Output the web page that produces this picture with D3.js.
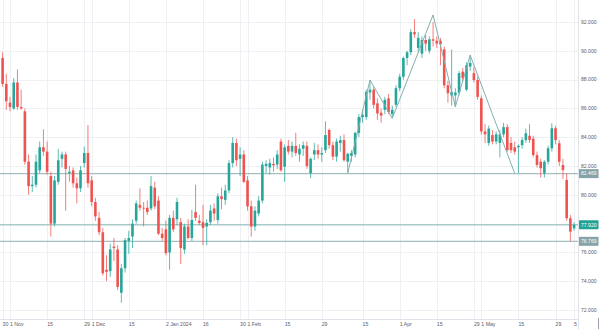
<!DOCTYPE html>
<html><head><meta charset="utf-8">
<script src="https://cdn.jsdelivr.net/npm/d3@7"></script>
<style>html,body{margin:0;padding:0;background:#fff;}svg{display:block;}</style>
</head><body>
<svg id="chart" width="600" height="329"></svg>
<script>
// Trading days (ICE Brent daily), Oct 30 2023 – Jun 5 2024
const dates = [
"2023-10-30","2023-10-31",
"2023-11-01","2023-11-02","2023-11-03","2023-11-06","2023-11-07","2023-11-08","2023-11-09","2023-11-10",
"2023-11-13","2023-11-14","2023-11-15","2023-11-16","2023-11-17","2023-11-20","2023-11-21","2023-11-22",
"2023-11-23","2023-11-24","2023-11-27","2023-11-28","2023-11-29","2023-11-30",
"2023-12-01","2023-12-04","2023-12-05","2023-12-06","2023-12-07","2023-12-08","2023-12-11","2023-12-12",
"2023-12-13","2023-12-14","2023-12-15","2023-12-18","2023-12-19","2023-12-20","2023-12-21","2023-12-22",
"2023-12-26","2023-12-27","2023-12-28","2023-12-29",
"2024-01-02","2024-01-03","2024-01-04","2024-01-05","2024-01-08","2024-01-09","2024-01-10","2024-01-11",
"2024-01-12","2024-01-15","2024-01-16","2024-01-17","2024-01-18","2024-01-19","2024-01-22","2024-01-23",
"2024-01-24","2024-01-25","2024-01-26","2024-01-29","2024-01-30","2024-01-31",
"2024-02-01","2024-02-02","2024-02-05","2024-02-06","2024-02-07","2024-02-08","2024-02-09","2024-02-12",
"2024-02-13","2024-02-14","2024-02-15","2024-02-16","2024-02-19","2024-02-20","2024-02-21","2024-02-22",
"2024-02-23","2024-02-26","2024-02-27","2024-02-28","2024-02-29",
"2024-03-01","2024-03-04","2024-03-05","2024-03-06","2024-03-07","2024-03-08","2024-03-11","2024-03-12",
"2024-03-13","2024-03-14","2024-03-15","2024-03-18","2024-03-19","2024-03-20","2024-03-21","2024-03-22",
"2024-03-25","2024-03-26","2024-03-27","2024-03-28",
"2024-04-01","2024-04-02","2024-04-03","2024-04-04","2024-04-05","2024-04-08","2024-04-09","2024-04-10",
"2024-04-11","2024-04-12","2024-04-15","2024-04-16","2024-04-17","2024-04-18","2024-04-19","2024-04-22",
"2024-04-23","2024-04-24","2024-04-25","2024-04-26","2024-04-29","2024-04-30",
"2024-05-01","2024-05-02","2024-05-03","2024-05-06","2024-05-07","2024-05-08","2024-05-09","2024-05-10",
"2024-05-13","2024-05-14","2024-05-15","2024-05-16","2024-05-17","2024-05-20","2024-05-21","2024-05-22",
"2024-05-23","2024-05-24","2024-05-27","2024-05-28","2024-05-29","2024-05-30","2024-05-31",
"2024-06-03","2024-06-04","2024-06-05"];

const opens = [89.5,87.7,86.4,86.0,87.8,86.1,85.8,82.3,80.6,80.7,81.7,83.3,83.0,81.3,78.0,80.9,82.5,82.8,81.5,81.7,
80.8,80.45,82.2,82.9,81.0,79.5,78.4,77.4,74.8,74.7,76.4,76.2,73.2,74.9,76.8,77.1,78.2,79.3,79.1,79.1,
79.05,80.5,79.6,77.3,77.6,76.0,78.4,78.3,78.1,76.2,77.8,77.0,78.8,78.2,78.1,77.8,78.1,79.05,78.25,79.9,
79.65,80.3,82.2,83.6,82.5,82.8,81.0,79.2,77.8,78.7,79.6,82.0,81.9,82.15,82.1,83.7,81.95,83.4,83.0,83.4,
82.8,83.2,83.4,81.5,82.8,83.1,82.8,83.1,84.5,83.45,82.65,83.6,83.8,82.3,82.7,82.8,84.3,85.4,85.4,87.1,
87.3,86.35,85.7,85.9,86.7,85.6,86.25,87.4,88.2,89.5,89.9,91.3,90.2,89.8,90.75,90.0,90.8,90.7,90.7,90.1,
87.6,86.9,86.9,87.1,88.55,87.3,88.9,88.45,87.97,86.7,84.4,83.6,84.15,83.7,83.6,84.2,84.7,83.6,83.3,83.3,
83.45,83.8,84.1,83.9,82.76,82.3,81.5,82.3,83.23,84.62,83.58,82.07,81.03,78.37,77.67];
const highs = [89.9,88.4,86.8,88.1,88.7,87.3,86.0,82.8,81.3,82.8,83.7,84.55,83.7,81.6,81.3,83.2,83.0,83.0,82.0,81.9,
81.2,82.0,83.35,84.85,81.3,79.8,78.8,77.7,75.8,76.6,77.0,76.5,75.2,77.0,77.5,78.3,79.6,80.45,79.5,79.6,
81.3,80.9,79.9,77.7,78.2,78.6,78.9,79.8,78.4,78.0,78.3,78.95,80.7,78.6,79.3,78.3,79.3,79.4,80.1,80.5,
80.7,82.4,84.0,83.9,83.3,83.1,81.3,79.6,79.2,79.9,82.3,82.4,82.5,82.6,83.1,83.9,83.5,83.8,83.7,84.3,
83.5,83.7,83.7,82.6,83.6,83.5,83.3,85.1,84.6,83.7,83.9,84.1,84.2,82.9,83.1,84.4,85.6,85.9,87.3,87.97,
87.5,86.7,86.0,86.8,87.0,86.2,87.6,88.4,89.6,90.0,91.5,92.2,91.3,91.0,91.1,91.0,92.0,91.0,90.9,90.3,
87.9,90.1,87.4,88.6,88.8,89.2,89.7,88.9,88.2,86.9,84.9,84.8,84.5,84.4,84.5,85.0,84.9,84.0,83.7,83.5,
84.0,84.6,84.9,84.1,83.0,82.5,82.4,83.4,84.97,84.8,83.8,82.5,81.5,78.6,78.1];
const lows = [87.5,85.9,85.8,85.9,85.9,85.9,82.1,80.0,80.2,80.5,81.5,82.7,81.4,77.1,77.8,80.7,81.9,78.9,80.9,80.5,
79.4,80.2,81.9,80.5,79.2,78.2,77.2,74.4,74.0,74.3,75.4,73.4,72.5,74.6,75.9,76.3,78.0,78.9,77.8,78.6,
78.9,79.0,77.2,76.8,75.8,74.8,77.4,77.9,75.2,75.9,76.9,76.8,78.2,77.9,76.5,76.5,77.9,78.2,78.0,79.0,
79.3,80.1,81.9,82.0,81.3,80.8,78.9,77.1,77.5,78.5,79.4,81.5,81.4,81.6,81.8,81.6,80.9,82.8,82.6,82.7,
82.3,82.7,81.8,81.15,82.4,82.5,82.3,82.9,83.2,82.4,82.3,83.0,82.3,81.5,82.3,82.6,84.0,85.0,85.2,86.6,
86.0,85.2,85.0,85.6,85.6,85.31,86.1,87.2,88.0,89.0,89.7,90.9,89.9,89.5,90.0,89.8,90.3,90.2,89.0,87.4,
86.4,86.2,86.12,86.9,87.9,87.2,88.6,87.8,86.6,84.2,83.6,83.4,83.5,83.5,82.6,84.0,83.0,82.9,82.8,81.5,
83.2,83.6,83.6,82.6,81.9,81.2,81.2,82.1,83.0,83.5,82.0,81.1,78.2,76.77,77.5];
const closes = [87.7,86.5,86.1,87.8,86.1,86.0,82.3,80.6,80.7,82.3,83.3,83.0,81.6,78.0,81.0,82.4,82.8,81.8,81.6,80.8,
80.45,81.7,82.9,80.8,79.5,78.5,77.4,74.55,74.65,76.2,76.3,73.6,74.9,76.85,77.0,78.0,79.4,79.1,79.05,78.8,
80.6,79.2,77.3,77.0,75.95,78.4,77.6,79.5,76.3,77.8,77.0,78.25,78.4,78.05,77.7,78.05,78.9,78.7,79.9,79.7,
80.3,82.2,83.6,82.4,82.8,80.9,79.2,77.8,78.9,79.6,82.1,82.15,82.2,82.05,82.8,81.7,83.3,83.0,83.4,82.9,
83.2,83.45,82.0,82.5,83.1,82.8,82.9,84.15,83.45,82.65,83.7,83.8,82.4,82.85,82.9,84.3,85.4,85.55,87.15,87.3,
86.25,85.65,85.5,86.6,85.75,85.9,87.4,88.2,89.5,89.9,91.3,91.15,90.9,90.75,90.5,90.8,90.7,90.5,90.45,87.6,
87.05,87.15,87.1,88.45,88.1,89.0,89.15,87.97,86.8,84.4,84.2,84.6,83.7,84.2,84.2,84.7,83.1,83.1,83.0,83.4,
83.8,84.27,83.8,82.76,82.07,81.84,82.3,83.23,84.62,83.8,82.3,81.72,78.37,77.44,77.92];

const priceTicks = [72,74,76,78,80,82,84,86,88,90,92];
const tickDates  = ["2023-10-30","2023-11-01","2023-11-15","2023-11-29","2023-12-01","2023-12-15","2024-01-02","2024-01-16",
  "2024-01-30","2024-02-01","2024-02-15","2024-02-29","2024-03-15","2024-04-01","2024-04-15","2024-04-29","2024-05-01",
  "2024-05-15","2024-05-29","2024-06-05"];
const tickLabels = ["30","1 Nov","15","29","1 Dec","15","2 Jan 2024","16","30","1 Feb","15","29","15","1 Apr","15","29","1 May","15","29","5"];

const levelPrices = [81.469, 77.920, 76.769];
const levelLabels = ["81.469", "77.920", "76.769"];
const levelBoxColors = ["#86a3a8", "#22a396", "#86a3a8"];

const zigDates  = ["2024-03-11","2024-03-19","2024-03-27","2024-04-12","2024-04-22","2024-04-26","2024-05-14"];
const zigPrices = [81.49, 87.97, 85.31, 92.49, 86.12, 89.70, 81.49];

// ---- drawing ----
const W = 600, H = 329, plotR = 578, plotB = 319;
const svg = d3.select("#chart");
const x = d3.scalePoint().domain(dates).range([2.6, 2.6 + 3.711 * (dates.length - 1)]);
const y = d3.scaleLinear().domain([72, 92]).range([310, 22]);
const font = "'Liberation Sans', Arial, sans-serif";
const fs = 5.1;

const grid = svg.append("g");
grid.selectAll("line.h").data(priceTicks).join("line")
  .attr("x1", 0).attr("x2", plotR).attr("y1", d => Math.round(y(d)) + 0.5).attr("y2", d => Math.round(y(d)) + 0.5)
  .attr("stroke", "#eef0f4").attr("stroke-width", 1);
grid.selectAll("line.v").data(tickDates).join("line")
  .attr("x1", d => Math.round(x(d)) + 0.5).attr("x2", d => Math.round(x(d)) + 0.5)
  .attr("y1", 0).attr("y2", plotB)
  .attr("stroke", "#eef0f4").attr("stroke-width", 1);

// horizontal level lines
svg.append("g").selectAll("line").data(levelPrices).join("line")
  .attr("x1", 0).attr("x2", plotR).attr("y1", d => y(d)).attr("y2", d => y(d))
  .attr("stroke", (d, i) => i === 1 ? "#a9cbc8" : "#a7bec1").attr("stroke-width", 1.3);

// candles
const idx = d3.range(dates.length);
const cg = svg.append("g");
cg.selectAll("line").data(idx).join("line")
  .attr("x1", i => x(dates[i])).attr("x2", i => x(dates[i]))
  .attr("y1", i => y(highs[i])).attr("y2", i => y(lows[i]))
  .attr("stroke", i => closes[i] >= opens[i] ? "#26a69a" : "#ef5350")
  .attr("stroke-opacity", 0.75).attr("stroke-width", 1);
cg.selectAll("rect").data(idx).join("rect")
  .attr("x", i => x(dates[i]) - 1.3).attr("width", 2.6)
  .attr("y", i => y(Math.max(opens[i], closes[i])))
  .attr("height", i => Math.max(0.8, Math.abs(y(opens[i]) - y(closes[i]))))
  .attr("fill", i => closes[i] >= opens[i] ? "#26a69a" : "#ef5350");

// zigzag pattern line
const zig = zigDates.map((d, i) => [x(d), y(zigPrices[i])]);
svg.append("path").attr("d", d3.line()(zig))
  .attr("fill", "none").attr("stroke", "#86aeb0").attr("stroke-width", 1);

// axes frame
svg.append("rect").attr("x", plotR).attr("y", 0).attr("width", W - plotR).attr("height", H).attr("fill", "#fff");
svg.append("rect").attr("x", 0).attr("y", plotB).attr("width", W).attr("height", H - plotB).attr("fill", "#fff");
svg.append("line").attr("x1", plotR + 0.5).attr("x2", plotR + 0.5).attr("y1", 0).attr("y2", H)
  .attr("stroke", "#dfe2e8");
svg.append("line").attr("x1", 0).attr("x2", plotR).attr("y1", plotB + 0.5).attr("y2", plotB + 0.5)
  .attr("stroke", "#dfe2e8");
svg.append("line").attr("x1", 598.5).attr("x2", 598.5).attr("y1", 318).attr("y2", 329).attr("stroke", "#9aa0a8");

// price axis labels
svg.append("g").selectAll("text").data(priceTicks).join("text")
  .attr("x", 581).attr("y", d => y(d) + 1.8)
  .attr("font-family", font).attr("font-size", fs).attr("fill", "#5d6068")
  .text(d => d3.format(".3f")(d));

// level boxes
const lb = svg.append("g").selectAll("g").data(levelPrices).join("g");
lb.append("rect").attr("x", 579).attr("y", d => y(d) - 4.5).attr("width", 19.5).attr("height", 9)
  .attr("fill", (d, i) => levelBoxColors[i]);
lb.append("text").attr("x", 581).attr("y", d => y(d) + 1.8)
  .attr("font-family", font).attr("font-size", fs).attr("fill", "#fff")
  .text((d, i) => levelLabels[i]);

// time axis labels
svg.append("g").selectAll("text").data(tickDates).join("text")
  .attr("x", d => x(d)).attr("y", 326.3)
  .attr("font-family", font).attr("font-size", fs + 0.1).attr("fill", "#5d6068")
  .text((d, i) => tickLabels[i]);
</script>
</body></html>
